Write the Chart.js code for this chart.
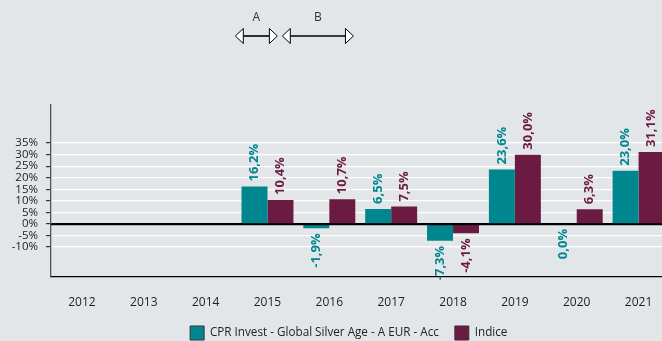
<!DOCTYPE html>
<html>
<head>
<meta charset="utf-8">
<script src="https://cdn.jsdelivr.net/npm/chart.js@4"></script>
<style>
    html, body { margin: 0; padding: 0; background: #e3e6e9; overflow: hidden; }
    #wrap { position: relative; width: 698px; height: 350px; }
</style>
</head>
<body>
<div id="wrap"><canvas id="canvas"></canvas></div>
<script>
// yearly performance, fund vs. index (%)
var years = ['2012', '2013', '2014', '2015', '2016', '2017', '2018', '2019', '2020', '2021'];
var fundValues = [null, null, null, 16.2, -1.9, 6.5, -7.3, 23.6, 0.0, 23.0];
var indexValues = [null, null, null, 10.4, 10.7, 7.5, -4.1, 30.0, 6.3, 31.1];
var yTicks = [-10, -5, 0, 5, 10, 15, 20, 25, 30, 35];
var seriesNames = ['CPR Invest - Global Silver Age - A EUR - Acc', 'Indice'];

var TEAL = '#00868f';
var MAROON = '#6b1b42';

Chart.defaults.font.family = "'Open Sans', sans-serif";

function fmt(v) {
    return v.toFixed(1).replace('.', ',') + '%';
}

// rotated value labels at the end of each bar
var barLabels = {
    id: 'barLabels',
    afterDatasetsDraw: function(chart) {
        var ctx = chart.ctx;
        chart.data.datasets.forEach(function(ds, di) {
            var meta = chart.getDatasetMeta(di);
            meta.data.forEach(function(bar, i) {
                var v = ds.data[i];
                if (v === null) return;
                ctx.save();
                ctx.font = 'bold 13px "Open Sans", sans-serif';
                ctx.fillStyle = ds.backgroundColor;
                ctx.textBaseline = 'middle';
                if (v > 0) {
                    ctx.translate(bar.x, bar.y - 5);
                    ctx.textAlign = 'left';
                } else {
                    ctx.translate(bar.x, bar.y + 5);
                    ctx.textAlign = 'right';
                }
                ctx.rotate(-Math.PI / 2);
                ctx.fillText(fmt(v), 0, 0);
                ctx.restore();
            });
        });
    }
};

// black zero line over the bars
var zeroLine = {
    id: 'zeroLine',
    afterDatasetsDraw: function(chart) {
        var y = Math.round(chart.scales.y.getPixelForValue(0)) + 0.5;
        var ctx = chart.ctx;
        ctx.save();
        ctx.strokeStyle = '#000';
        ctx.lineWidth = 1.3;
        ctx.beginPath();
        ctx.moveTo(chart.chartArea.left, y);
        ctx.lineTo(chart.chartArea.right, y);
        ctx.stroke();
        ctx.restore();
    }
};

// legend sits a little right of the plot centre
var legendShift = {
    id: 'legendShift',
    afterLayout: function(chart) {
        chart.legend.left += 14;
        chart.legend.right += 14;
    }
};

// period markers A and B above the plot
var periodArrows = {
    id: 'periodArrows',
    afterDraw: function(chart) {
        var spans = [
            { text: 'A', from: 2.48, to: 3.16 },
            { text: 'B', from: 3.24, to: 4.39 }
        ];
        var ctx = chart.ctx;
        var xs = chart.scales.x;
        var y = 36, hl = 8, hh = 7.5;
        ctx.save();
        spans.forEach(function(s) {
            var x1 = xs.getPixelForValue(s.from);
            var x2 = xs.getPixelForValue(s.to);
            ctx.strokeStyle = '#000';
            ctx.lineWidth = 1.6;
            ctx.beginPath();
            ctx.moveTo(x1 + hl, y);
            ctx.lineTo(x2 - hl, y);
            ctx.stroke();
            ctx.lineWidth = 1;
            ctx.fillStyle = '#fff';
            [[x1, 1], [x2, -1]].forEach(function(h) {
                ctx.beginPath();
                ctx.moveTo(h[0], y);
                ctx.lineTo(h[0] + h[1] * hl, y - hh);
                ctx.lineTo(h[0] + h[1] * hl, y + hh);
                ctx.closePath();
                ctx.fill();
                ctx.stroke();
            });
            ctx.fillStyle = '#333';
            ctx.font = '12px "Open Sans", sans-serif';
            ctx.textAlign = 'center';
            ctx.textBaseline = 'middle';
            ctx.fillText(s.text, (x1 + x2) / 2, 18);
        });
        ctx.restore();
    }
};

var config = {
    type: 'bar',
    data: {
        labels: years,
        datasets: [{
                label: seriesNames[0],
                backgroundColor: TEAL,
                borderWidth: 0,
                data: fundValues
            },
            {
                label: seriesNames[1],
                backgroundColor: MAROON,
                borderWidth: 0,
                data: indexValues
            }
        ]
    },
    options: {
        responsive: true,
        maintainAspectRatio: false,
        animation: false,
        categoryPercentage: 0.84,
        barPercentage: 1.0,
        layout: { padding: { top: 105, right: 28.5, bottom: 0, left: 0 } },
        scales: {
            x: {
                grid: { display: false },
                border: { display: true, color: '#000', width: 1.3 },
                ticks: { color: '#222', font: { size: 12 }, padding: 10 },
                afterFit: function(s) { s.height = 33; }
            },
            y: {
                min: -23,
                max: 51.5,
                grid: {
                    color: function(c) { return c.tick && c.tick.value === 0 ? '#000' : '#ffffff'; },
                    lineWidth: 1.2,
                    tickLength: 5,
                    tickColor: '#333'
                },
                border: { display: true, color: '#555', width: 1.3 },
                ticks: {
                    color: '#222',
                    font: { size: 11.5 },
                    padding: 8,
                    callback: function(v) { return v + '%'; }
                },
                afterBuildTicks: function(s) {
                    s.ticks = yTicks.map(function(v) { return { value: v }; });
                },
                afterFit: function(s) { s.width = 51; }
            }
        },
        plugins: {
            tooltip: { enabled: false },
            legend: {
                position: 'bottom',
                labels: {
                    color: '#222',
                    font: { size: 11.7 },
                    boxWidth: 14,
                    boxHeight: 14,
                    padding: 16,
                    generateLabels: function(chart) {
                        var items = Chart.defaults.plugins.legend.labels.generateLabels(chart);
                        items.forEach(function(it) {
                            it.strokeStyle = '#333';
                            it.lineWidth = 1;
                        });
                        return items;
                    }
                }
            }
        }
    },
    plugins: [barLabels, zeroLine, periodArrows, legendShift]
};

window.addEventListener('load', function() {
    var ctx = document.getElementById('canvas').getContext('2d');
    window.BarChart = new Chart(ctx, config);
});
</script>
</body>
</html>
